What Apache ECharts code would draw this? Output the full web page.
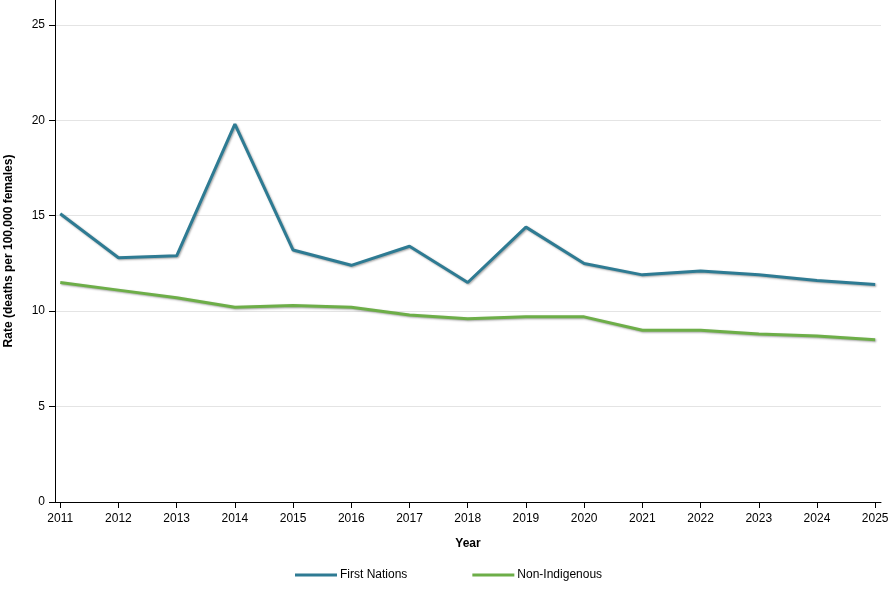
<!DOCTYPE html>
<html>
<head>
<meta charset="utf-8">
<script src="https://cdn.jsdelivr.net/npm/echarts@6/dist/echarts.min.js"></script>
<style>
  html, body { margin: 0; padding: 0; background: #fff; }
  #chart { width: 890px; height: 600px; }
</style>
</head>
<body>
<div id="chart"></div>
<script>
const years = [2011, 2012, 2013, 2014, 2015, 2016, 2017, 2018, 2019, 2020, 2021, 2022, 2023, 2024, 2025];
const firstNations = [15.1, 12.8, 12.9, 19.8, 13.2, 12.4, 13.4, 11.5, 14.4, 12.5, 11.9, 12.1, 11.9, 11.6, 11.4];
const nonIndigenous = [11.5, 11.1, 10.7, 10.2, 10.3, 10.2, 9.8, 9.6, 9.7, 9.7, 9.0, 9.0, 8.8, 8.7, 8.5];
const yTicks = [0, 5, 10, 15, 20, 25];

const font = 'Liberation Sans, Arial, sans-serif';
const chart = echarts.init(document.getElementById('chart'));

const lineShadow = { shadowColor: 'rgba(0,0,0,0.35)', shadowBlur: 2, shadowOffsetX: 1, shadowOffsetY: 1 };

chart.setOption({
  animation: false,
  textStyle: { fontFamily: font },
  grid: { left: 55, right: 9, top: 0, bottom: 98, containLabel: false, outerBoundsMode: 'none' },
  legend: {
    bottom: 14,
    left: 290,
    itemWidth: 42,
    itemHeight: 3,
    itemGap: 65,
    icon: 'rect',
    textStyle: { fontFamily: font, fontSize: 12, color: '#000', padding: [0, 0, 0, -2] },
    data: ['First Nations', 'Non-Indigenous']
  },
  xAxis: {
    type: 'value',
    min: 2010.91,
    max: 2025.1,
    name: 'Year',
    nameLocation: 'middle',
    nameGap: 36,
    nameTextStyle: { fontWeight: 'bold', fontSize: 12, color: '#000', fontFamily: font },
    axisLine: { lineStyle: { color: '#000', width: 1 } },
    axisTick: { length: 6, lineStyle: { color: '#000' }, customValues: years },
    axisLabel: {
      color: '#000', fontSize: 12, fontFamily: font, margin: 11,
      customValues: years,
      formatter: v => String(v)
    },
    splitLine: { show: false }
  },
  yAxis: {
    type: 'value',
    min: 0,
    max: 26.3,
    name: 'Rate (deaths per 100,000 females)',
    nameLocation: 'middle',
    nameGap: 40,
    nameRotate: 90,
    nameTextStyle: { fontWeight: 'bold', fontSize: 12, color: '#000', fontFamily: font },
    axisLine: { show: true, lineStyle: { color: '#000', width: 1 } },
    axisTick: { show: true, length: 6, lineStyle: { color: '#000' }, customValues: yTicks },
    axisLabel: {
      color: '#000', fontSize: 12, fontFamily: font, margin: 10,
      customValues: yTicks,
      formatter: v => String(v)
    },
    splitLine: { show: false }
  },
  series: [
    {
      name: 'First Nations',
      type: 'line',
      data: years.map((y, i) => [y, firstNations[i]]),
      symbol: 'none',
      color: '#2E7B93',
      lineStyle: Object.assign({ width: 3, color: '#2E7B93' }, lineShadow),
      markLine: {
        silent: true,
        symbol: 'none',
        label: { show: false },
        lineStyle: { color: '#e4e4e4', width: 1, type: 'solid', shadowBlur: 0, shadowOffsetX: 0, shadowOffsetY: 0 },
        z: 0,
        data: yTicks.slice(1).map(v => ({ yAxis: v }))
      }
    },
    {
      name: 'Non-Indigenous',
      type: 'line',
      data: years.map((y, i) => [y, nonIndigenous[i]]),
      symbol: 'none',
      color: '#6DAE48',
      lineStyle: Object.assign({ width: 3, color: '#6DAE48' }, lineShadow)
    }
  ]
});
</script>
</body>
</html>
